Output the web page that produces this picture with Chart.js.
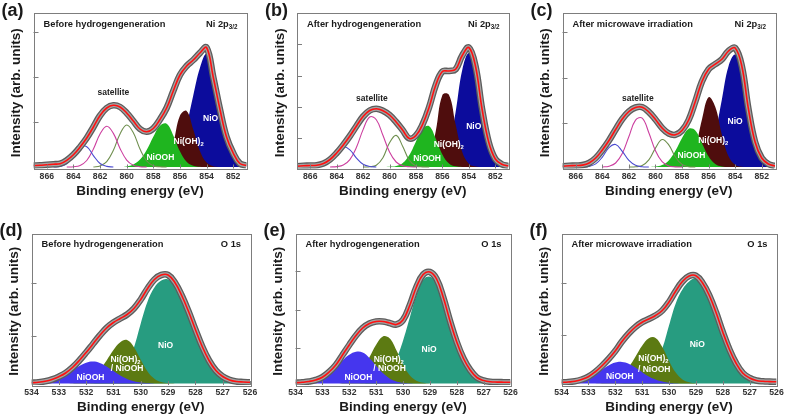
<!DOCTYPE html>
<html><head><meta charset="utf-8">
<script src="https://cdn.jsdelivr.net/npm/chart.js@4.4.0/dist/chart.umd.min.js"></script>
<style>
html,body{margin:0;padding:0;background:#fff;}
#wrap{position:relative;width:785px;height:417px;overflow:hidden;background:#fff;}
#wrap canvas{position:absolute;left:0;top:0;}
</style></head><body><div id="wrap"></div>
<script>
const _ = null;
// ---- binding energy grids (eV) ----
const energyNi = [867,866.5,866,865.5,865,864.5,864,863.5,863,862.5,862,861.5,861,860.5,860,859.5,859,858.5,858,857.5,857,856.5,856,855.5,855,854.5,854,853.5,853,852.5,852,851.5,851];
const energyO = [534,533.75,533.5,533.25,533,532.75,532.5,532.25,532,531.75,531.5,531.25,531,530.75,530.5,530.25,530,529.75,529.5,529.25,529,528.75,528.5,528.25,528,527.75,527.5,527.25,527,526.75,526.5,526.25,526];
const tickLabelsNi = [866,864,862,860,858,856,854,852];
const tickLabelsO = [534,533,532,531,530,529,528,527,526];

// ---- (a) Ni 2p3/2, before hydrogen generation ----
const aEnvelope = [1.5,1.7,2.3,2.8,3.3,6.7,12.3,20,29,40,51.5,59,61.7,60,54,46,38,35.2,38.5,47.5,59,76,92,101,107,114,119.5,90,58,30,14,3.5,1.5];
const aSat1 = [_,_,_,0,0.5,3.3,11,20,20.3,11.4,3.5,0.6,0,_,_,_,_,_,_,_,_,_,_,_,_,_,_,_,_,_,_,_,_];
const aSat2 = [_,_,_,_,_,0,0.3,1.6,6.5,18,33,40.7,33.6,18.6,6.9,1.7,0.3,0,_,_,_,_,_,_,_,_,_,_,_,_,_,_,_];
const aSat3 = [_,_,_,_,_,_,_,_,_,0,1.1,5.4,16.7,33,42,34.2,17.9,6,1.3,0.2,0,_,_,_,_,_,_,_,_,_,_,_,_];
const aNiOOH = [0,0,0,0,0,0,0,0,0,0,0,0,0,0.1,0.6,2.5,7.4,17,30.2,41.3,43.2,31.6,15.7,5.3,1.2,0.2,0,0,0,0,0,0,0];
const aNiOH2 = [0,0,0,0,0,0,0,0,0,0,0,0,0,0,0,0,0,0,0,0.6,5.5,23.8,51.2,56,37.5,16.1,4.4,0.8,0.1,0,0,0,0];
const aNiO = [0,0,0,0,0,0,0,0,0,0,0,0,0,0,0,0,0,0,0.1,0.7,2.7,8.3,20.7,42,71.5,99,113,86,55,28,12,3,1];

// ---- (b) Ni 2p3/2, after hydrogen generation ----
const bEnvelope = [0.8,1.2,1.5,1.8,3.5,7.5,14,22,31,41,50.5,56.5,58.3,56.3,52,45,36.7,28.5,31.5,42.5,60,82,95.5,96,97.7,111.5,119.5,101,58,25,8,2.7,1];
const bSat1 = [_,_,_,0.2,1.5,5.9,14.1,20.1,17.2,8.9,2.7,0.5,0,_,_,_,_,_,_,_,_,_,_,_,_,_,_,_,_,_,_,_,_];
const bSat2 = [_,_,_,_,_,0,0.4,2,7.4,19.8,37.4,50,47.3,31.7,15,5,1.2,0.2,0,_,_,_,_,_,_,_,_,_,_,_,_,_,_];
const bSat3 = [_,_,_,_,_,_,_,_,_,_,0,0.2,1.8,9.3,24.2,31.6,20.5,6.6,1.1,0.1,0,_,_,_,_,_,_,_,_,_,_,_,_];
const bNiOOH = [0,0,0,0,0,0,0,0,0,0,0,0,0,0,0.2,0.9,4,12,25.6,38.5,40.8,28.3,12.6,3.6,0.7,0.1,0,0,0,0,0,0,0];
const bNiOH2 = [0,0,0,0,0,0,0,0,0,0,0,0,0,0,0,0,0,0,0.1,1.1,8.8,36.1,72,72.1,42.4,15,3.2,0.4,0,0,0,0,0];
const bNiO = [0,0,0,0,0,0,0,0,0,0,0,0,0,0,0,0,0,0,0,0,0.1,0.8,5.2,20.8,55,97,114,98,55,23,7,2,0.5];

// ---- (c) Ni 2p3/2, after microwave irradiation ----
const cEnvelope = [0.8,1.2,1.5,1.9,4,9,17,26.5,37.5,48,55.5,59.5,59.8,55,47.5,39,33.5,32.2,36.5,47,65.5,85.5,97.8,102.8,107.7,116,119,101,58,25,9,3,1];
const cSat1 = [_,_,_,0,0.6,3.1,9.9,19.3,22.5,15.7,6.6,1.7,0.2,0,_,_,_,_,_,_,_,_,_,_,_,_,_,_,_,_,_,_,_];
const cSat2 = [_,_,_,_,_,_,0,0.8,4,13.4,30.5,46.9,48.8,34.3,16.3,5.3,1.1,0.1,0,_,_,_,_,_,_,_,_,_,_,_,_,_,_];
const cSat3 = [_,_,_,_,_,_,_,_,_,_,0,0.2,1.5,7.1,18.9,27.5,22.2,10,2.5,0.3,0,_,_,_,_,_,_,_,_,_,_,_,_];
const cNiOOH = [0,0,0,0,0,0,0,0,0,0,0,0,0,0,0.5,2,6.6,16.2,29,38.3,36.6,23.8,10.5,3.1,0.6,0.1,0,0,0,0,0,0,0];
const cNiOH2 = [0,0,0,0,0,0,0,0,0,0,0,0,0,0,0,0,0,0,0.6,4.4,19,47.6,69.8,60.3,32.3,10.7,2.2,0.3,0,0,0,0,0];
const cNiO = [0,0,0,0,0,0,0,0,0,0,0,0,0,0,0,0,0,0,0,0.2,0.8,3.6,12.8,34,67.6,100.8,112.5,97,55,23,7.5,2,0.5];

// ---- (d) O 1s, before hydrogen generation ----
const dEnvelope = [0.7,1.2,2.2,4,6.8,10.5,16,23,31,39.5,48,55.5,61,65,69,75,84,95,104,108.5,108.5,101,88,72,54,37,23,13,7,3.6,2,1.5,1.2];
const dNiOOH = [0.2,0.6,1.4,3,5.5,9,13.3,17.6,20.8,22,20.6,17,12.4,7.9,4.5,2.2,0.9,0.4,0.1,0,0,0,0,0,0,0,0,0,0,0,0,0,0];
const dMixed = [0,0,0,0,0,0,0.3,1,2.8,6.7,13.5,23,33.4,41.3,43.4,36.3,23.8,12.1,4.8,1.5,0.4,0.1,0,0,0,0,0,0,0,0,0,0,0];
const dNiO = [0,0,0,0,0,0,0,0,0.1,0.3,0.9,2.3,5.3,10.9,20,36,60,82,96,103,104,98,85,69,51,34.5,21,11.5,6,3,1.5,0.8,0.5];

// ---- (e) O 1s, after hydrogen generation ----
const eEnvelope = [0.7,1.2,2,3.5,6.3,11.5,18.5,28.5,38.5,48,55.5,60,62,62,60.5,59,63.5,78,96.5,109,111.5,104.5,86,62.5,41.5,25,13.5,6,3,1.7,1.4,1.3,1.2];
const eNiOOH = [0.2,0.6,1.5,3.3,6.3,10.9,16.8,23.2,28.7,31.7,31,25.6,17.8,10.4,5.1,2.1,0.7,0.2,0,0,0,0,0,0,0,0,0,0,0,0,0,0,0];
const eMixed = [0,0,0,0,0,0,0,0.6,2.3,6.4,14.4,26.2,38.8,47.1,45.2,33.5,19,8.2,2.7,0.7,0.1,0,0,0,0,0,0,0,0,0,0,0,0];
const eNiO = [0,0,0,0,0,0,0,0,0,0,0.2,0.7,2,5.2,12.1,24.4,42.8,65.8,88.4,103.7,106.8,101,83,60,39.5,23.5,12.5,5.5,2.5,1.2,0.7,0.5,0.4];

// ---- (f) O 1s, after microwave irradiation ----
const fEnvelope = [1,1.5,2.2,4,6.8,11.5,17.5,24.5,32.5,42,50,56.5,61.3,64.5,68,73,81.5,92.5,102,107.5,107.8,100.5,88,71,51.5,34,20,10.3,5.5,3,2.2,1.9,1.7];
const fNiOOH = [0.3,0.7,1.7,3.4,6,9.7,14,18.1,21,21.6,19.8,15.9,11.3,7,3.9,1.9,0.8,0.3,0.1,0,0,0,0,0,0,0,0,0,0,0,0,0,0];
const fMixed = [0,0,0,0,0,0,0.4,1.3,3.6,8.3,16.2,26.8,37.8,45.2,45.6,36.4,22.6,11,4.1,1.2,0.3,0,0,0,0,0,0,0,0,0,0,0,0];
const fNiO = [0,0,0,0,0,0,0,0,0,0.3,0.9,2.2,5,10.5,20,35,58,80,94,102,105,97.5,85,68,49,31.5,18,9,4.5,2.2,1.2,0.8,0.6];

// ---- styles ----
const FONT = '"Liberation Sans", Arial, Helvetica, sans-serif';
const C = {
  niO: '#0c0c9c', niOH2: '#4f0d0d', niOOH: '#1fb51f',
  sat1: '#4b4bd0', sat2: '#cc3f9f', sat3: '#6f8f4f',
  oNiOOH: '#4536ee', oMixed: '#5c7a12', oNiO: '#279c80'
};
const W = 785, H = 417;
const ROW1 = {top: 13, bottom: 168.5, base: 167};
const ROW2 = {top: 233.5, bottom: 385, base: 383.5};
const SUB2 = [['Ni(OH)'], ['2', true]];

const panels = [
  {letter:'(a)', cond:'Before hydrogengeneration', core:[['Ni 2p'],['3/2',true]], row:ROW1, left:33.5, right:246.5,
   energy:energyNi, xmin:851, xmax:867, xticks:tickLabelsNi, yticks:[45,90,135], env:aEnvelope,
   lines:[[aSat1,C.sat1],[aSat2,C.sat2],[aSat3,C.sat3]], fills:[[aNiOOH,C.niOOH],[aNiOH2,C.niOH2],[aNiO,C.niO]],
   labels:[{p:[['NiO']],e:853.7,h:48,c:'#fff'},{p:SUB2,e:855.35,h:25,c:'#fff'},{p:[['NiOOH']],e:857.47,h:9,c:'#fff'},{p:[['satellite']],e:861,h:74,c:'#222'}]},
  {letter:'(b)', cond:'After hydrogengeneration', core:[['Ni 2p'],['3/2',true]], row:ROW1, left:297, right:508.5,
   energy:energyNi, xmin:851, xmax:867, xticks:tickLabelsNi, yticks:[29.3,60.4,91.5,122.6], env:bEnvelope,
   lines:[[bSat1,C.sat1],[bSat2,C.sat2],[bSat3,C.sat3]], fills:[[bNiOOH,C.niOOH],[bNiOH2,C.niOH2],[bNiO,C.niO]],
   labels:[{p:[['NiO']],e:853.63,h:40,c:'#fff'},{p:SUB2,e:855.52,h:22.7,c:'#fff'},{p:[['NiOOH']],e:857.16,h:8.3,c:'#fff'},{p:[['satellite']],e:861.33,h:68.7,c:'#222'}]},
  {letter:'(c)', cond:'After microwave irradiation', core:[['Ni 2p'],['3/2',true]], row:ROW1, left:562.5, right:775,
   energy:energyNi, xmin:851, xmax:867, xticks:tickLabelsNi, yticks:[44.5,89.5,135], env:cEnvelope,
   lines:[[cSat1,C.sat1],[cSat2,C.sat2],[cSat3,C.sat3]], fills:[[cNiOOH,C.niOOH],[cNiOH2,C.niOH2],[cNiO,C.niO]],
   labels:[{p:[['NiO']],e:854.0,h:45,c:'#fff'},{p:SUB2,e:855.65,h:26,c:'#fff'},{p:[['NiOOH']],e:857.29,h:11,c:'#fff'},{p:[['satellite']],e:861.33,h:68.3,c:'#222'}]},
  {letter:'(d)', cond:'Before hydrogengeneration', core:[['O 1s']], row:ROW2, left:31.5, right:250,
   energy:energyO, xmin:526, xmax:534, xticks:tickLabelsO, yticks:[48,100.7], env:dEnvelope,
   lines:[], fills:[[dNiOOH,C.oNiOOH],[dMixed,C.oMixed],[dNiO,C.oNiO]],
   labels:[{p:[['NiO']],e:529.09,h:38,c:'#fff'},{p:SUB2,e:530.56,h:24,c:'#fff'},{p:[['/ NiOOH']],e:530.5,h:14.7,c:'#fff'},{p:[['NiOOH']],e:531.84,h:5.7,c:'#fff'}]},
  {letter:'(e)', cond:'After hydrogengeneration', core:[['O 1s']], row:ROW2, left:295.5, right:510.5,
   energy:energyO, xmin:526, xmax:534, xticks:tickLabelsO, yticks:[35.7,74,112.3], env:eEnvelope,
   lines:[], fills:[[eNiOOH,C.oNiOOH],[eMixed,C.oMixed],[eNiO,C.oNiO]],
   labels:[{p:[['NiO']],e:529.03,h:34,c:'#fff'},{p:SUB2,e:530.53,h:24,c:'#fff'},{p:[['/ NiOOH']],e:530.5,h:14.7,c:'#fff'},{p:[['NiOOH']],e:531.66,h:5.7,c:'#fff'}]},
  {letter:'(f)', cond:'After microwave irradiation', core:[['O 1s']], row:ROW2, left:561.5, right:776.5,
   energy:energyO, xmin:526, xmax:534, xticks:tickLabelsO, yticks:[49,101], env:fEnvelope,
   lines:[], fills:[[fNiOOH,C.oNiOOH],[fMixed,C.oMixed],[fNiO,C.oNiO]],
   labels:[{p:[['NiO']],e:528.95,h:39,c:'#fff'},{p:SUB2,e:530.58,h:25,c:'#fff'},{p:[['/ NiOOH']],e:530.55,h:14,c:'#fff'},{p:[['NiOOH']],e:531.83,h:6.7,c:'#fff'}]}
];

function rich(ctx, parts, x, y, align, size, color) {
  ctx.fillStyle = color; ctx.textBaseline = 'middle'; ctx.textAlign = 'left';
  const fontOf = sub => `bold ${sub ? (size * 0.68).toFixed(1) : size}px ${FONT}`;
  const widths = parts.map(([t, sub]) => { ctx.font = fontOf(sub); return ctx.measureText(t).width; });
  const total = widths.reduce((s, w) => s + w, 0);
  let cx = align === 'center' ? x - total / 2 : align === 'right' ? x - total : x;
  parts.forEach(([t, sub], i) => { ctx.font = fontOf(sub); ctx.fillText(t, cx, sub ? y + size * 0.32 : y); cx += widths[i]; });
}

const deco = {
  id: 'deco',
  afterDatasetsDraw(chart, args, o) {
    const {ctx, chartArea: a, scales: {x, y}} = chart;
    ctx.save();
    ctx.strokeStyle = '#7d7d7d'; ctx.lineWidth = 1;
    ctx.strokeRect(Math.round(a.left) + 0.5, Math.round(a.top) + 0.5, Math.round(a.right - a.left), Math.round(a.bottom - a.top));
    ctx.beginPath();
    o.xticks.forEach(v => { const px = Math.round(x.getPixelForValue(v)) + 0.5; ctx.moveTo(px, a.bottom); ctx.lineTo(px, a.bottom - 4); });
    o.yticks.forEach(v => { const py = Math.round(y.getPixelForValue(v)) + 0.5; ctx.moveTo(a.left, py); ctx.lineTo(a.left + 5, py); });
    ctx.stroke();
    ctx.fillStyle = '#333'; ctx.font = `bold 8.7px ${FONT}`; ctx.textAlign = 'center'; ctx.textBaseline = 'middle';
    o.xticks.forEach(v => ctx.fillText(String(v), x.getPixelForValue(v), a.bottom + 8));
    ctx.fillStyle = '#1a1a1a'; ctx.font = `bold 13.5px ${FONT}`;
    ctx.fillText('Binding energy (eV)', (a.left + a.right) / 2, a.bottom + 22.5);
    ctx.save(); ctx.translate(a.left - 17, (a.top + a.bottom) / 2 + 2); ctx.rotate(-Math.PI / 2);
    ctx.fillText('Intensity (arb. units)', 0, 0); ctx.restore();
    ctx.font = `bold 18px ${FONT}`; ctx.textAlign = 'left';
    ctx.fillText(o.letter, a.left - 32, a.top - 2);
    rich(ctx, [[o.cond]], a.left + 10, a.top + 11, 'left', 9.3, '#1a1a1a');
    rich(ctx, o.core, a.right - 9, a.top + 11, 'right', 9.3, '#1a1a1a');
    o.labels.forEach(l => rich(ctx, l.p, x.getPixelForValue(l.e), y.getPixelForValue(l.h), 'center', 8.5, l.c));
    ctx.restore();
  }
};

const pts = (E, vals) => E.map((e, i) => ({x: e, y: vals[i]}));
const wrap = document.getElementById('wrap');

panels.forEach(p => {
  const cv = document.createElement('canvas');
  cv.width = W; cv.height = H; cv.style.width = W + 'px'; cv.style.height = H + 'px';
  wrap.appendChild(cv);
  const ds = [];
  ds.push({data: pts(p.energy, p.env), borderColor: '#ff1010', borderWidth: 1.6, pointRadius: 0, fill: false, tension: 0.4, order: 0});
  ds.push({data: pts(p.energy, p.env), borderColor: '#a4a4a4', borderWidth: 4, pointRadius: 0, fill: false, tension: 0.4, order: 1});
  ds.push({data: pts(p.energy, p.env), borderColor: '#5c5c5c', borderWidth: 6.6, pointRadius: 0, fill: false, tension: 0.4, order: 2});
  p.lines.forEach(([arr, col], i) => ds.push({data: pts(p.energy, arr), borderColor: col, borderWidth: 1.1, pointRadius: 0, fill: false, tension: 0.4, spanGaps: false, order: 3 + i}));
  p.fills.forEach(([arr, col], i) => ds.push({data: pts(p.energy, arr), borderColor: col, backgroundColor: col, borderWidth: 0, pointRadius: 0, fill: 'origin', tension: 0.4, order: 6 + i}));
  new Chart(cv, {
    type: 'line',
    data: {datasets: ds},
    options: {
      responsive: false, animation: false, devicePixelRatio: 1,
      layout: {padding: {left: p.left, right: W - p.right, top: p.row.top, bottom: H - p.row.bottom}},
      scales: {
        x: {type: 'linear', display: false, min: p.xmin, max: p.xmax, reverse: true},
        y: {type: 'linear', display: false, min: -(p.row.bottom - p.row.base), max: p.row.base - p.row.top}
      },
      plugins: {legend: {display: false}, tooltip: {enabled: false}, deco: p},
      events: []
    },
    plugins: [deco]
  });
});
</script></body></html>
